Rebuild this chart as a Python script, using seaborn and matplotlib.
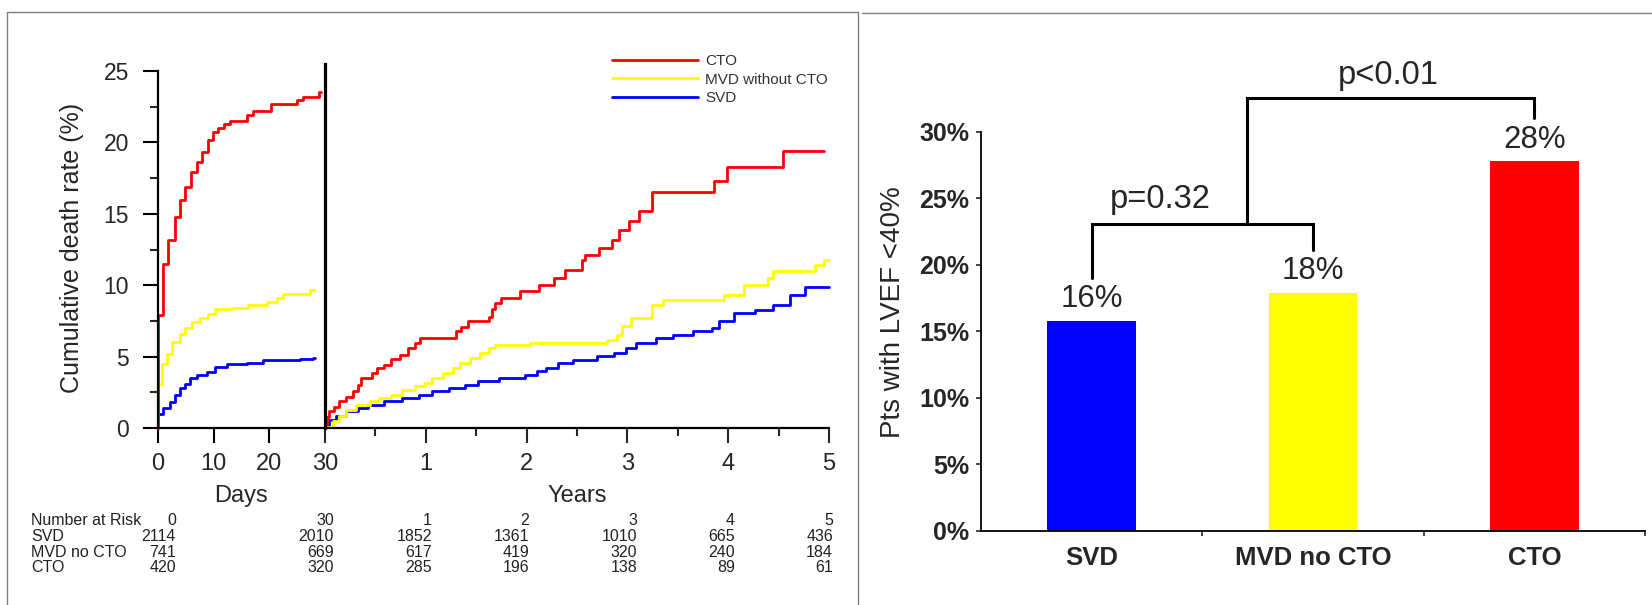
import numpy as np
import pandas as pd
import matplotlib
matplotlib.use("Agg")
import matplotlib.pyplot as plt
import seaborn as sns
from matplotlib.lines import Line2D
from matplotlib import font_manager

# ---------------- data ----------------
GROUPS = ["SVD", "MVD without CTO", "CTO"]
LINE_COLORS = {"SVD": "#0000FF", "MVD without CTO": "#FFFF00", "CTO": "#FF0000"}

# first 30 days (x in days, y in %)
DAYS_CTO_T = [0, 0, 0.96, 1.86, 3.05, 3.95, 4.85, 5.87, 6.95, 7.97, 8.93, 9.95, 10.85, 11.87,
              12.95, 15.9, 17.1, 20.3, 24.9, 26.1, 28.9, 29.2]
DAYS_CTO_V = [0, 7.9, 11.5, 13.2, 14.8, 16.0, 16.9, 17.9, 18.6, 19.35, 20.2, 20.7, 21.0, 21.3,
              21.5, 21.9, 22.2, 22.7, 22.95, 23.2, 23.5, 23.5]
DAYS_MVD_T = [0, 0, 0.66, 1.56, 2.46, 3.95, 4.85, 6.05, 7.55, 9.05, 10.25, 13.5, 16.2, 19.5,
              21.3, 22.5, 27.3, 28.2]
DAYS_MVD_V = [0, 3.1, 4.5, 5.2, 6.0, 6.6, 7.0, 7.4, 7.7, 8.0, 8.3, 8.4, 8.6, 8.85,
              9.1, 9.4, 9.65, 9.65]
DAYS_SVD_T = [0, 0, 0.96, 2.16, 3.05, 3.95, 4.85, 5.75, 6.95, 8.75, 10.25, 12.35, 15.9, 18.9,
              25.5, 27.9, 28.2]
DAYS_SVD_V = [0, 1.0, 1.38, 1.84, 2.3, 2.8, 3.1, 3.5, 3.7, 3.95, 4.3, 4.45, 4.57, 4.76,
              4.83, 4.92, 4.92]

# 30 days to 5 years (x in years, y in %)
YEARS_CTO_T = [0, 0.02, 0.04, 0.09, 0.14, 0.21, 0.28, 0.33, 0.36, 0.47, 0.52, 0.59, 0.65, 0.74,
               0.82, 0.89, 0.94, 1.30, 1.35, 1.42, 1.63, 1.66, 1.69, 1.75, 1.93, 2.12, 2.27,
               2.38, 2.55, 2.58, 2.72, 2.85, 2.92, 3.02, 3.12, 3.24, 3.86, 3.99, 4.54, 4.95]
YEARS_CTO_V = [0.3, 0.8, 1.17, 1.5, 1.87, 2.2, 2.57, 3.03, 3.5, 3.85, 4.2, 4.43, 4.8, 5.1,
               5.6, 5.95, 6.3, 6.77, 7.1, 7.47, 7.8, 8.3, 8.75, 9.1, 9.57, 10.0, 10.5,
               11.1, 11.8, 12.1, 12.6, 13.2, 13.9, 14.5, 15.2, 16.5, 17.3, 18.3, 19.4, 19.4]
YEARS_MVD_T = [0, 0.075, 0.14, 0.21, 0.31, 0.45, 0.54, 0.65, 0.76, 0.89, 0.99, 1.06, 1.17, 1.27,
               1.34, 1.44, 1.54, 1.63, 1.69, 2.03, 2.80, 2.90, 2.95, 3.04, 3.24, 3.35, 3.96,
               4.16, 4.39, 4.44, 4.86, 4.95, 5.0]
YEARS_MVD_V = [0.1, 0.47, 0.82, 1.28, 1.63, 1.87, 2.1, 2.33, 2.68, 2.92, 3.15, 3.5, 3.85, 4.2,
               4.55, 4.9, 5.25, 5.6, 5.84, 5.95, 6.19, 6.54, 7.12, 7.7, 8.64, 8.99, 9.34,
               10.04, 10.5, 10.97, 11.4, 11.8, 11.8]
YEARS_SVD_T = [0, 0.04, 0.11, 0.21, 0.33, 0.43, 0.59, 0.76, 0.93, 1.06, 1.23, 1.39, 1.52, 1.73,
               1.98, 2.10, 2.19, 2.31, 2.46, 2.70, 2.87, 2.99, 3.09, 3.28, 3.45, 3.65, 3.84,
               3.91, 4.06, 4.27, 4.44, 4.61, 4.76, 5.0]
YEARS_SVD_V = [0.2, 0.58, 0.82, 1.17, 1.4, 1.63, 1.87, 2.1, 2.33, 2.57, 2.8, 3.03, 3.27, 3.5,
               3.73, 3.97, 4.2, 4.55, 4.79, 5.02, 5.25, 5.6, 5.95, 6.3, 6.54, 6.77, 7.0,
               7.47, 8.05, 8.29, 8.64, 9.34, 9.87, 9.87]

DAY_TICKS = [0, 10, 20]
YEAR_TICKS = [0, 1, 2, 3, 4, 5]
YEAR_TICK_LABELS = ["30", "1", "2", "3", "4", "5"]

RISK_HEADER = ["0", "30", "1", "2", "3", "4", "5"]
RISK_ROWS = ["SVD", "MVD no CTO", "CTO"]
RISK_SVD = [2114, 2010, 1852, 1361, 1010, 665, 436]
RISK_MVD = [741, 669, 617, 419, 320, 240, 184]
RISK_CTO = [420, 320, 285, 196, 138, 89, 61]

BAR_CATS = ["SVD", "MVD no CTO", "CTO"]
BAR_VALUES = [15.8, 17.9, 27.8]
BAR_COLORS = ["#0000FF", "#FFFF00", "#FF0000"]
BAR_TICKS = [0, 5, 10, 15, 20, 25, 30]
P_LOW = "p=0.32"
P_HIGH = "p<0.01"

# ---------------- layout helpers ----------------
W, H = 1652, 605
sns.set_style("ticks")
plt.rcParams["font.family"] = ["Liberation Sans", "DejaVu Sans"]
_names = {f.name for f in font_manager.fontManager.ttflist}
NARROW = "Liberation Sans Narrow" if "Liberation Sans Narrow" in _names else "Liberation Sans"
TABLE_SIZE = 11.5 if NARROW == "Liberation Sans" else 13

fig = plt.figure(figsize=(W / 100, H / 100), dpi=100)


def rect(x0, y0, x1, y1):
    return [x0 / W, 1 - y1 / H, (x1 - x0) / W, (y1 - y0) / H]


def fx(x):
    return x / W


def fy(y):
    return 1 - y / H


def long_df(series):
    parts = []
    for name, t, v in series:
        parts.append(pd.DataFrame({"group": name, "t": t, "v": v}))
    return pd.concat(parts, ignore_index=True)


df_days = long_df([("SVD", DAYS_SVD_T, DAYS_SVD_V),
                   ("MVD without CTO", DAYS_MVD_T, DAYS_MVD_V),
                   ("CTO", DAYS_CTO_T, DAYS_CTO_V)])
df_years = long_df([("SVD", YEARS_SVD_T, YEARS_SVD_V),
                    ("MVD without CTO", YEARS_MVD_T, YEARS_MVD_V),
                    ("CTO", YEARS_CTO_T, YEARS_CTO_V)])

# ---------------- left panel ----------------
ax_d = fig.add_axes(rect(158, 63.9, 325, 428))
ax_y = fig.add_axes(rect(325, 63.9, 829, 428))
for ax in (ax_d, ax_y):
    ax.patch.set_alpha(0)

for ax, df in ((ax_d, df_days), (ax_y, df_years)):
    sns.lineplot(data=df, x="t", y="v", hue="group", hue_order=GROUPS, palette=LINE_COLORS,
                 estimator=None, sort=False, drawstyle="steps-post", lw=2.0,
                 clip_on=False, legend=False, ax=ax)
    ax.set_xlabel("")
    ax.set_ylabel("")
    ax.set_ylim(0, 25.5)
    ax.spines["top"].set_visible(False)
    ax.spines["right"].set_visible(False)
    ax.spines["bottom"].set_linewidth(1.6)
    ax.spines["bottom"].set_color("black")

ax_d.set_xlim(0, 30)
ax_d.spines["left"].set_bounds(0, 25)
ax_d.spines["left"].set_linewidth(1.6)
ax_d.spines["left"].set_color("black")
ax_d.set_yticks([0, 5, 10, 15, 20, 25])
ax_d.set_yticks(np.arange(2.5, 25, 5), minor=True)
ax_d.set_xticks(DAY_TICKS)
ax_d.set_xticklabels([str(d) for d in DAY_TICKS])
ax_d.tick_params(axis="both", which="major", direction="out", length=10.8, width=1.5,
                 labelsize=17, color="black")
ax_d.tick_params(axis="x", which="major", pad=7)
ax_d.tick_params(axis="y", which="major", pad=10, labelsize=16.5)
ax_d.tick_params(axis="y", which="minor", direction="out", length=6, width=1.5)
ax_d.tick_params(axis="x", which="minor", length=0)

ax_y.set_xlim(0, 5)
ax_y.spines["left"].set_linewidth(2.3)
ax_y.spines["left"].set_color("black")
ax_y.set_xticks(YEAR_TICKS)
ax_y.set_xticklabels(YEAR_TICK_LABELS)
ax_y.set_xticks(np.arange(0.5, 5, 1), minor=True)
ax_y.tick_params(axis="y", which="both", left=False, labelleft=False)
ax_y.tick_params(axis="x", which="major", direction="out", length=10.8, width=1.5,
                 labelsize=17, pad=7)
ax_y.tick_params(axis="x", which="minor", direction="out", length=6, width=1.5)

fig.text(fx(72), fy(248), "Cumulative death rate (%)", rotation=90, ha="center",
         va="center", fontsize=18)
fig.text(fx(241), fy(502), "Days", ha="center", va="baseline", fontsize=17)
fig.text(fx(577), fy(502), "Years", ha="center", va="baseline", fontsize=17)

handles = [Line2D([], [], color=LINE_COLORS[g], lw=2.0) for g in ["CTO", "MVD without CTO", "SVD"]]
fig.legend(handles, ["CTO", "MVD without CTO", "SVD"], loc="upper left",
           bbox_to_anchor=(fx(612), fy(54)), bbox_transform=fig.transFigure,
           frameon=False, borderpad=0, borderaxespad=0, handlelength=5.6,
           handletextpad=0.5, labelspacing=0.3, labelcolor="#333333",
           prop={"family": NARROW, "size": 11})

# number at risk table
RISK_X = [176, 334, 432, 529, 637, 735, 833]
RISK_Y = [525, 541, 557, 572]
TXT = dict(va="baseline", fontsize=TABLE_SIZE, family=NARROW, color="#222222")
fig.text(fx(31), fy(RISK_Y[0]), "Number at Risk", ha="left", **TXT)
for xv, lab in zip(RISK_X, RISK_HEADER):
    fig.text(fx(xv), fy(RISK_Y[0]), lab, ha="right", **TXT)
for row_y, name, vals in zip(RISK_Y[1:], RISK_ROWS, [RISK_SVD, RISK_MVD, RISK_CTO]):
    fig.text(fx(31), fy(row_y), name, ha="left", **TXT)
    for xv, n in zip(RISK_X, vals):
        fig.text(fx(xv), fy(row_y), str(n), ha="right", **TXT)

# ---------------- right panel ----------------
ax_b = fig.add_axes(rect(981, 131.7, 1645, 531))
df_bar = pd.DataFrame({"group": BAR_CATS, "pct": BAR_VALUES})
sns.barplot(data=df_bar, x="group", y="pct", hue="group", palette=BAR_COLORS,
            width=0.4, saturation=1, linewidth=0, legend=False, ax=ax_b)
ax_b.set_xlabel("")
ax_b.set_ylabel("")
ax_b.set_xlim(-0.5, 2.5)
ax_b.set_ylim(0, 30)
ax_b.spines["top"].set_visible(False)
ax_b.spines["right"].set_visible(False)
for s in ("left", "bottom"):
    ax_b.spines[s].set_linewidth(1.3)
    ax_b.spines[s].set_color("black")
ax_b.set_yticks(BAR_TICKS)
ax_b.set_yticklabels([f"{t}%" for t in BAR_TICKS], fontweight="bold")
ax_b.set_xticks(range(len(BAR_CATS)))
ax_b.set_xticklabels(BAR_CATS, fontweight="bold")
ax_b.set_xticks([0.5, 1.5, 2.5], minor=True)
ax_b.tick_params(axis="y", which="major", direction="out", length=3.6, width=1.2,
                 labelsize=18, pad=5)
ax_b.tick_params(axis="x", which="major", length=0, labelsize=18.5, pad=11)
ax_b.tick_params(axis="x", which="minor", direction="out", length=3.6, width=1.2)

for i, v in enumerate(BAR_VALUES):
    ax_b.text(i, v + 1.0, f"{round(v)}%", ha="center", va="baseline", fontsize=22.5)

LOW_Y, HIGH_Y, LEG_GAP, MID_X = 23.1, 32.5, 3.2, 0.7
ax_b.plot([0, 0, 1, 1], [BAR_VALUES[0] + LEG_GAP, LOW_Y, LOW_Y, BAR_VALUES[1] + LEG_GAP],
          color="black", lw=2.2, clip_on=False, solid_joinstyle="miter")
ax_b.plot([MID_X, MID_X, 2, 2], [LOW_Y, HIGH_Y, HIGH_Y, BAR_VALUES[2] + LEG_GAP],
          color="black", lw=2.2, clip_on=False, solid_joinstyle="miter")
ax_b.text(0.31, 24.3, P_LOW, ha="center", va="baseline", fontsize=23.5)
ax_b.text(1.34, 33.6, P_HIGH, ha="center", va="baseline", fontsize=23.5)

fig.text(fx(893), fy(312), "Pts with LVEF <40%", rotation=90, ha="center", va="center",
         fontsize=20)

# ---------------- panel frames ----------------
FRAME = "#808080"
for xs, ys in (([7, 7], [12, 605]), ([7, 858], [12, 12]), ([858, 858], [12, 605]),
               ([862, 1652], [13, 13])):
    fig.add_artist(Line2D([fx(x) for x in xs], [fy(y) for y in ys], color=FRAME, lw=1.0,
                          transform=fig.transFigure))

fig.savefig("out.png", dpi=100)
